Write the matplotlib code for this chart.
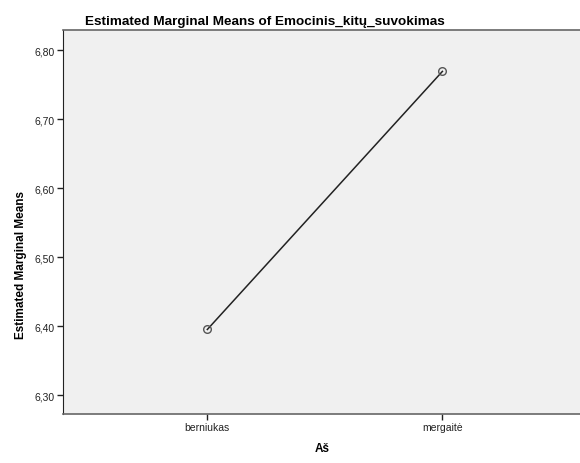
import matplotlib
matplotlib.use("Agg")
import matplotlib.pyplot as plt

categories = ["berniukas", "mergaitė"]
means = [6.395, 6.769]
yticks = [6.30, 6.40, 6.50, 6.60, 6.70, 6.80]
ytick_labels = ["6,30", "6,40", "6,50", "6,60", "6,70", "6,80"]

plt.rcParams['font.family'] = ['Liberation Sans', 'DejaVu Sans']

fig = plt.figure(figsize=(5.8, 4.64), dpi=100)
ax = fig.add_axes([63/580, 1-415/464, 1-63/580 + 0.01, (415-31)/464])
ax.set_facecolor("#f0f0f0")

x = list(range(len(categories)))
ax.plot(x, means, color="#222222", lw=1.1, marker="o", ms=5.5,
        mfc="none", mec="#555555", mew=1.0, zorder=3)

ax.set_xlim(-0.614, 1.61)
ax.set_ylim(6.2725, 6.829)
ax.set_xticks(x)
ax.set_xticklabels(categories, fontsize=7.5, color="#222222")
ax.set_yticks(yticks)
ax.set_yticklabels(ytick_labels, fontsize=7.5, color="#222222")
ax.tick_params(axis='both', length=4, width=1, color="#222222", pad=2)

ax.spines["right"].set_visible(False)
ax.spines["left"].set_color("#222222")
ax.spines["bottom"].set_color("#666666")
ax.spines["top"].set_color("#666666")
ax.spines["bottom"].set_linewidth(1.2)
ax.spines["top"].set_linewidth(1.2)

fig.text(265/580, 1-25.5/464, "Estimated Marginal Means of Emocinis_kitų_suvokimas",
         ha="center", va="baseline", fontsize=9.7, fontweight="bold")
fig.text(322/580, 1-449/464, "Aš", ha="center", va="center", fontsize=8.5, fontweight="bold")
fig.text(21/580, 1-265/464, "Estimated Marginal Means", ha="center", va="center",
         rotation=90, fontsize=8.5, fontweight="bold")

fig.savefig("out.png", dpi=100)
